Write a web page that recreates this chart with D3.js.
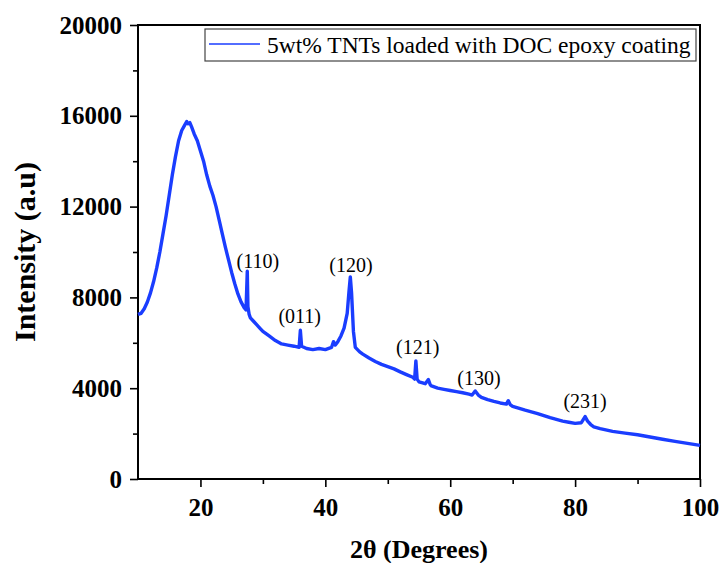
<!DOCTYPE html>
<html>
<head>
<meta charset="utf-8">
<script src="https://cdn.jsdelivr.net/npm/d3@7"></script>
<style>
  body { margin: 0; background: #fff; }
  svg text { font-family: "Liberation Serif", "Times New Roman", serif; }
</style>
</head>
<body>
<div id="chart"></div>
<script>
// XRD pattern (2theta in degrees, intensity in a.u.)
const twoTheta = [
  10.0, 10.5, 11.0, 11.5, 12.0, 12.5, 13.0, 13.5, 14.0, 14.5,
  15.0, 15.5, 16.0, 16.5, 17.0, 17.5, 17.8, 18.0, 18.3, 18.6,
  19.0, 19.5, 20.0, 20.5, 21.0, 21.5, 22.0, 22.5, 23.0, 23.5,
  24.0, 24.5, 25.0, 25.5, 26.0, 26.5, 27.0, 27.3, 27.5, 27.6,
  27.8, 28.0, 28.5, 29.0, 29.5, 30.0, 31.0, 32.0, 33.0, 34.0,
  35.0, 35.8, 36.0, 36.2, 37.0, 38.0, 39.0, 40.0, 41.0, 41.3,
  41.6, 42.0, 42.5, 43.0, 43.5, 43.8, 44.0, 44.2, 44.5, 44.8,
  45.5, 46.0, 47.0, 48.0, 49.0, 50.0, 51.0, 52.0, 53.0, 54.0,
  54.3, 54.5, 54.7, 55.0, 56.0, 56.5, 56.8, 57.0, 58.0, 59.0,
  60.0, 61.0, 62.0, 63.0, 63.5, 64.0, 64.5, 65.0, 66.0, 67.0,
  68.0, 69.0, 69.3, 69.6, 70.0, 72.0, 74.0, 76.0, 78.0, 79.0,
  80.0, 81.0, 81.6, 82.0, 82.5, 83.0, 84.0, 86.0, 88.0, 90.0,
  92.0, 94.0, 96.0, 98.0, 100.0
];
const intensity = [
  7250, 7300, 7500, 7800, 8200, 8700, 9300, 10000, 10800, 11600,
  12500, 13400, 14200, 14900, 15350, 15600, 15750, 15650, 15700, 15500,
  15200, 14900, 14450, 14000, 13400, 12900, 12500, 12000, 11400, 10800,
  10200, 9650, 9100, 8600, 8150, 7800, 7550, 7450, 9150, 7600,
  7250, 7100, 6950, 6800, 6650, 6500, 6300, 6100, 5950, 5900,
  5850, 5800, 6550, 5850, 5750, 5700, 5750, 5700, 5800, 6050,
  5900, 6050, 6300, 6650, 7300, 8300, 8900, 8200, 6500, 5800,
  5600, 5500, 5330, 5180, 5050, 4950, 4850, 4720, 4600, 4480,
  4400, 5200, 4400, 4280, 4200, 4380, 4150, 4100, 4000, 3950,
  3900, 3850, 3800, 3740, 3700, 3880, 3700, 3600, 3500, 3420,
  3350, 3300, 3450, 3280, 3200, 3030, 2880, 2700, 2550, 2500,
  2450, 2480, 2750, 2550, 2400, 2300, 2220, 2100, 2020, 1950,
  1850, 1750, 1660, 1570, 1480
];

// peak labels (hkl) and where they sit, in data units
const peakLabels = ["(110)", "(011)", "(120)", "(121)", "(130)", "(231)"];
const labelTheta = [29.2, 35.9, 44.1, 54.8, 64.6, 81.6];
const labelIntensity = [9500, 7060, 9300, 5700, 4340, 3330];

const xTicks = [20, 40, 60, 80, 100];
const xMinorTicks = [30, 50, 70, 90];
const yTicks = [0, 4000, 8000, 12000, 16000, 20000];
const yMinorTicks = [2000, 6000, 10000, 14000, 18000];

const legendLabel = "5wt% TNTs loaded with DOC epoxy coating";

const width = 722, height = 563;
const margin = {top: 25, right: 22, bottom: 84, left: 138};
const innerW = width - margin.left - margin.right;
const innerH = height - margin.top - margin.bottom;
const blue = "#1a3dff";

const svg = d3.select("#chart").append("svg")
    .attr("width", width)
    .attr("height", height);

const chart = svg.append("g")
    .attr("transform", `translate(${margin.left},${margin.top})`);

const x = d3.scaleLinear([10, 100], [0, innerW]);
const y = d3.scaleLinear([0, 20000], [innerH, 0]);

// axes: minor ticks first, then major ones with labels
chart.append("g")
    .attr("transform", `translate(0,${innerH})`)
    .call(d3.axisBottom(x).tickValues(xMinorTicks).tickSize(5).tickFormat(""))
    .call(g => g.select(".domain").remove());
chart.append("g")
    .call(d3.axisLeft(y).tickValues(yMinorTicks).tickSize(5).tickFormat(""))
    .call(g => g.select(".domain").remove());

const axisX = chart.append("g")
    .attr("transform", `translate(0,${innerH})`)
    .call(d3.axisBottom(x).tickValues(xTicks).tickSize(8).tickPadding(11)
        .tickFormat(d3.format("d")));
const axisY = chart.append("g")
    .call(d3.axisLeft(y).tickValues(yTicks).tickSize(8).tickPadding(8)
        .tickFormat(d3.format("d")));

[axisX, axisY].forEach(g => {
  g.selectAll("text")
      .attr("fill", "#000")
      .style("font-size", "25px")
      .style("font-weight", "bold");
  g.select(".domain").remove();
});
chart.selectAll(".tick line").attr("stroke", "#000").attr("stroke-width", 1.6);

// frame around the plot
chart.append("rect")
    .attr("width", innerW)
    .attr("height", innerH)
    .attr("fill", "none")
    .attr("stroke", "#000")
    .attr("stroke-width", 2);

// the pattern
const points = twoTheta.map((t, i) => [t, intensity[i]]);
const line = d3.line().x(d => x(d[0])).y(d => y(d[1]));
chart.append("path")
    .datum(points)
    .attr("fill", "none")
    .attr("stroke", blue)
    .attr("stroke-width", 3.4)
    .attr("stroke-linejoin", "round")
    .attr("d", line);

// peak labels
chart.selectAll("text.peak")
    .data(peakLabels)
    .join("text")
    .classed("peak", true)
    .attr("x", (d, i) => x(labelTheta[i]))
    .attr("y", (d, i) => y(labelIntensity[i]))
    .attr("text-anchor", "middle")
    .attr("dominant-baseline", "middle")
    .style("font-size", "20px")
    .text(d => d);

// legend
const legend = chart.append("g").attr("transform", "translate(67,4)");
legend.append("rect")
    .attr("width", 491)
    .attr("height", 32)
    .attr("fill", "#fff")
    .attr("stroke", "#444")
    .attr("stroke-width", 1.2);
legend.append("line")
    .attr("x1", 4).attr("x2", 55)
    .attr("y1", 15).attr("y2", 15)
    .attr("stroke", blue)
    .attr("stroke-width", 1.5);
legend.append("text")
    .attr("x", 62)
    .attr("y", 24)
    .style("font-size", "23.5px")
    .text(legendLabel);

// axis titles
svg.append("text")
    .attr("x", margin.left + innerW / 2)
    .attr("y", 558)
    .attr("text-anchor", "middle")
    .style("font-size", "26px")
    .style("font-weight", "bold")
    .text("2θ (Degrees)");
svg.append("text")
    .attr("transform", `translate(35,${margin.top + innerH / 2}) rotate(-90)`)
    .attr("text-anchor", "middle")
    .style("font-size", "30px")
    .style("font-weight", "bold")
    .text("Intensity (a.u)");
</script>
</body>
</html>
